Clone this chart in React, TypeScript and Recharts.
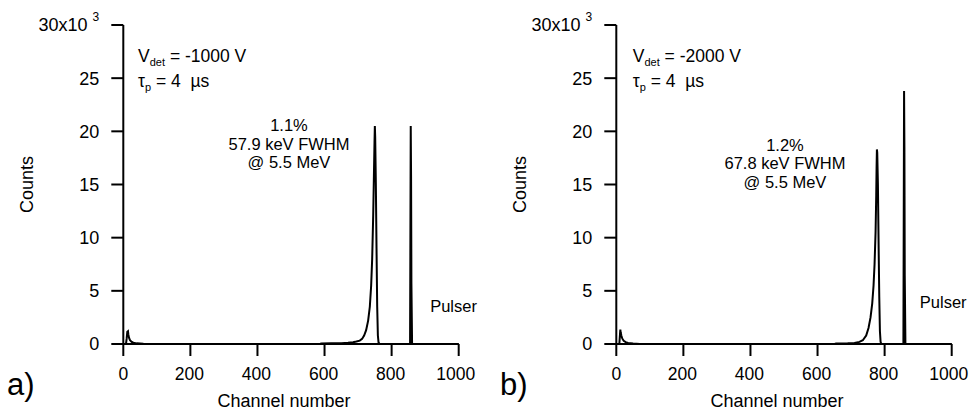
import React from 'react';
import { LineChart, Line, XAxis, YAxis, ReferenceDot } from 'recharts';

const FONT = '"Liberation Sans", Arial, Helvetica, sans-serif';

// Spectrum a) : V_det = -1000 V
const channelsA = [0, 8, 10, 12, 14, 15, 17, 20, 25, 30, 40, 60, 80, 586, 590, 620, 650, 670, 685, 695, 705, 712, 718, 724, 730, 735, 739, 742, 745, 747, 749, 750, 751, 753, 755, 757, 759, 761, 764, 855, 857, 858, 859, 861, 1000];
const countsA = [0, 0, 500, 1150, 1200, 900, 600, 350, 200, 120, 60, 20, 0, 0, 40, 60, 80, 110, 160, 230, 320, 480, 800, 1300, 2200, 3500, 5500, 8000, 12000, 15500, 19000, 20500, 19500, 15000, 9000, 3500, 800, 150, 0, 0, 20500, 15800, 5700, 0, 0];

// Spectrum b) : V_det = -2000 V
const channelsB = [0, 9, 11, 12, 13, 15, 18, 22, 28, 35, 50, 70, 651, 655, 690, 710, 725, 735, 745, 752, 758, 763, 767, 770, 773, 775, 776, 777, 778, 780, 782, 784, 786, 788, 790, 856, 858, 859, 860, 862, 1000];
const countsB = [0, 0, 900, 1350, 1100, 800, 500, 300, 180, 100, 40, 0, 0, 40, 60, 100, 200, 350, 800, 1500, 2500, 3800, 5500, 7500, 10500, 14000, 16500, 18300, 18000, 15000, 9500, 4500, 1200, 200, 0, 0, 23800, 18500, 6500, 0, 0];

const xTicks = [0, 200, 400, 600, 800, 1000];
const yTicks = [0, 5000, 10000, 15000, 20000, 25000, 30000];

const panelLabels = ['a)', 'b)'];
const voltages = ['-1000 V', '-2000 V'];
const resolutions = ['1.1%', '1.2%'];
const fwhms = ['57.9 keV FWHM', '67.8 keV FWHM'];
const energies = ['@ 5.5 MeV', '@ 5.5 MeV'];

// annotation anchors (data units, layout only)
const noteX = [494, 503];
const noteY = [[20600, 18800, 17070], [18700, 17000, 15200]];
const infoX = [44, 49];
const pulserAt = [[915, 3570], [905, 3950]];

const buildData = (chs: number[], cts: number[]) => chs.map((c, i) => ({ ch: c, counts: cts[i] }));

const YTick = (props: any) => {
  const { x, y, payload } = props;
  const v = payload.value / 1000;
  if (v === 30) {
    return (
      <text x={x} y={y} dy="0.355em" textAnchor="end" fill="#000" fontSize={18} fontFamily={FONT}>
        30x10
        <tspan dx={5} dy={-10} fontSize={12}>3</tspan>
      </text>
    );
  }
  return (
    <text x={x} y={y} dy="0.355em" textAnchor="end" fill="#000" fontSize={18} fontFamily={FONT}>
      {v}
    </text>
  );
};

const XTick = (props: any) => {
  const { x, y, payload } = props;
  const shift = payload.value === 1000 ? -3 : payload.value === 0 ? 0 : -1;
  return (
    <text x={x + shift} y={y} dy="0.71em" textAnchor="middle" fill="#000" fontSize={17.5} fontFamily={FONT}>
      {payload.value}
    </text>
  );
};

function Panel({ idx, data }: { idx: number; data: any[] }) {
  const axisStyle = { stroke: '#000', strokeWidth: 2 };
  const noteStyle = { fill: '#000', fontSize: 16.5, fontFamily: FONT, position: 'center' as const };
  return (
    <LineChart width={480} height={412} data={data} margin={{ top: 25, right: 21.3, left: 0, bottom: 0 }}>
      <XAxis
        dataKey="ch"
        type="number"
        domain={[0, 1000]}
        ticks={xTicks}
        interval={0}
        height={68}
        tickSize={12}
        tickMargin={12}
        axisLine={axisStyle}
        tickLine={axisStyle}
        tick={(p: any) => <XTick {...p} />}
        label={{
          content: (p: any) => {
            const vb = p.viewBox;
            return (
              <g>
                <text x={vb.x + vb.width / 2 - 7} y={vb.y + vb.height - 5} textAnchor="middle" fill="#000" fontSize={18} fontFamily={FONT}>
                  Channel number
                </text>
                <text x={7} y={vb.y + 51} textAnchor="start" fill="#000" fontSize={31} fontFamily={FONT}>
                  {panelLabels[idx]}
                </text>
              </g>
            );
          },
        }}
      />
      <YAxis
        type="number"
        domain={[0, 30000]}
        ticks={yTicks}
        interval={0}
        width={123.3}
        tickSize={12}
        tickMargin={12}
        axisLine={axisStyle}
        tickLine={axisStyle}
        tick={(p: any) => <YTick {...p} />}
        label={{
          value: 'Counts',
          angle: -90,
          position: 'insideLeft',
          offset: 27,
          fill: '#000',
          fontSize: 18,
          fontFamily: FONT,
          style: { textAnchor: 'middle' },
        }}
      />
      <Line dataKey="counts" type="linear" stroke="#000" strokeWidth={2} dot={false} isAnimationActive={false} />
      <ReferenceDot x={noteX[idx]} y={noteY[idx][0]} r={0} fill="none" stroke="none" label={{ value: resolutions[idx], ...noteStyle }} />
      <ReferenceDot x={noteX[idx]} y={noteY[idx][1]} r={0} fill="none" stroke="none" label={{ value: fwhms[idx], ...noteStyle }} />
      <ReferenceDot x={noteX[idx]} y={noteY[idx][2]} r={0} fill="none" stroke="none" label={{ value: energies[idx], ...noteStyle }} />
      <ReferenceDot
        x={pulserAt[idx][0]}
        y={pulserAt[idx][1]}
        r={0}
        fill="none"
        stroke="none"
        label={{ value: 'Pulser', fill: '#000', fontSize: 16.5, fontFamily: FONT, position: 'center', style: { textAnchor: 'start' } }}
      />
      <ReferenceDot
        x={infoX[idx]}
        y={27100}
        r={0}
        fill="none"
        stroke="none"
        label={{
          content: (p: any) => {
            const vb = p.viewBox;
            return (
              <text x={vb.x} y={vb.y} dy="0.355em" fill="#000" fontSize={17.5} fontFamily={FONT} style={{ whiteSpace: 'pre' }}>
                V<tspan fontSize={11} dy={4}>det</tspan>
                <tspan dy={-4}>{' = ' + voltages[idx]}</tspan>
              </text>
            );
          },
        }}
      />
      <ReferenceDot
        x={infoX[idx]}
        y={24800}
        r={0}
        fill="none"
        stroke="none"
        label={{
          content: (p: any) => {
            const vb = p.viewBox;
            return (
              <text x={vb.x} y={vb.y} dy="0.355em" fill="#000" fontSize={17.5} fontFamily={FONT} style={{ whiteSpace: 'pre' }}>
                τ<tspan fontSize={11} dy={4}>p</tspan>
                <tspan dy={-4}>{' = 4  \u00B5s'}</tspan>
              </text>
            );
          },
        }}
      />
    </LineChart>
  );
}

export default function App() {
  const dataA = buildData(channelsA, countsA);
  const dataB = buildData(channelsB, countsB);
  return (
    <div style={{ position: 'absolute', left: 0, top: 0, width: 969, height: 412, overflow: 'hidden', background: '#fff' }}>
      <div style={{ position: 'absolute', left: 0, top: 0 }}>
        <Panel idx={0} data={dataA} />
      </div>
      <div style={{ position: 'absolute', left: 493.4, top: 0 }}>
        <Panel idx={1} data={dataB} />
      </div>
    </div>
  );
}
